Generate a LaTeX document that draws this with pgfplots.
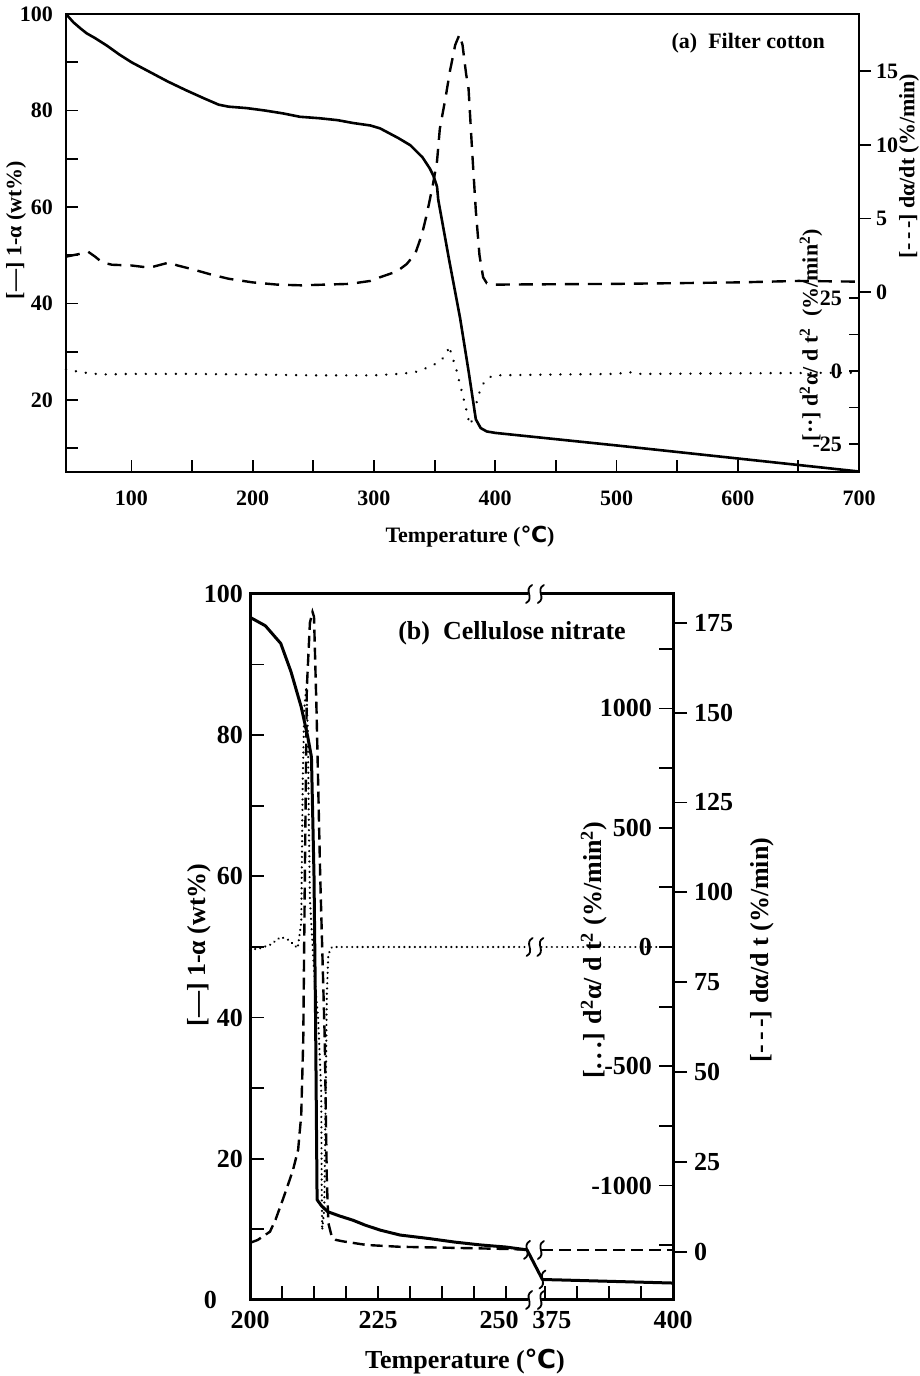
\documentclass[border=0pt]{standalone}
\usepackage{fontspec}
\setmainfont{Liberation Serif}
\newfontfamily\dv{DejaVu Sans}
\usepackage{pgfplots}
\usepackage{pgfplotstable}
\pgfplotsset{compat=1.18}

% ---------------- Panel (a) data ----------------
\pgfplotstableread{
T V
46 100
52 98.3
58 97
63 96
70 95
80 93.4
90 91.6
100 90
115 88
130 86
145 84.2
160 82.5
172 81.2
180 80.8
195 80.5
210 80
225 79.4
239 78.7
255 78.4
270 78.0
283 77.4
297 76.9
305 76.3
311 75.5
320 74.3
330 72.8
340 70.3
346 68
349 66.5
352 64.2
353 61.5
362 49
371 37
378 26
384 16
388 14.2
393 13.5
400 13.2
500 10.6
600 7.9
700 5.2
}\asolid

\pgfplotstableread{
T D
46 2.4
52 2.5
58 2.6
64 2.75
70 2.4
76 2.0
84 1.85
100 1.8
115 1.65
124 1.85
131 2.0
138 1.8
150 1.55
165 1.2
180 0.9
200 0.65
220 0.5
240 0.45
260 0.5
280 0.55
297 0.75
305 1.0
319 1.4
327 1.9
334 2.6
339.5 3.9
343.6 5.3
348.6 7.3
352 8.9
354.3 11.1
359 13.2
362.6 15.0
367 16.8
370.5 17.5
373 16.8
376 14.8
378 13.8
381 9.5
384 5.5
387 2.5
390 1.0
393 0.6
400 0.5
500 0.55
600 0.65
650 0.75
700 0.7
}\adash

\pgfplotstableread{
T S
46 0.5
60 -0.5
75 -1.2
100 -1.0
150 -1.0
200 -1.2
250 -1.5
300 -1.5
320 -1.0
333 -0.5
340 0.5
348 1.8
355 3.5
360 6
362 8.6
364 5.5
366 3
368 0.3
370 -3
373 -8
376 -13
379 -18.5
382 -16
385 -10
388 -6
392 -3
397 -1.8
400 -1.5
450 -1.2
500 -1.0
510 -0.4
520 -1.0
600 -0.8
700 -0.6
}\adot

% ---------------- Panel (b) data (x: 375..400 mapped to 257.6..282.6) ----------------
\pgfplotstableread{
X V
200 96.7
203 95.5
206 93
208 89
210 84
211.3 79.7
212.0 76.9
212.5 60
212.8 40
213.1 14.2
214 13.3
215.2 12.5
217.5 11.9
220.1 11.3
222.5 10.6
225.4 9.9
229.3 9.2
235 8.7
240 8.2
245 7.8
250 7.5
254.1 7.1
257.1 2.9
260 2.85
270 2.65
282.6 2.4
}\bsolid

\pgfplotstableread{
X D
200 2.5
201.5 3.3
203.9 5.6
205 9
206.4 14.5
207.5 19
208.4 22.8
209.4 28.4
210.0 38
210.4 59
210.7 103
211.1 157
211.7 175
212.2 178
212.5 176.7
213.0 150
213.7 105
214.6 59
215.0 20
215.3 8
215.95 4.3
216.8 3.3
218.2 2.9
222.8 1.9
229.3 1.4
240 1.1
250 0.8
254.3 0.6
}\bdashA

\pgfplotstableread{
X D
256.9 0.5
282.6 0.5
}\bdashB

\pgfplotstableread{
X S
200 -12
202 -5
204 10
206 42
207.5 30
209.3 -5
210.0 100
210.1 300
210.3 700
210.6 1000
211.0 1090
211.3 900
211.5 500
211.7 200
212.5 -100
213.3 -300
213.9 -600
214.0 -1000
214.1 -1187
214.5 -1100
214.8 -600
215.0 -200
215.3 -30
216 0
230 0
254.3 0
}\bdotA

\pgfplotstableread{
X S
256.9 0
282.6 0
}\bdotB

\newcommand{\smark}[2]{\draw[line width=0.9pt,line cap=round] ([shift={(-1.5pt,-4.5pt)}]axis cs:#1,#2) .. controls ([shift={(3pt,-2pt)}]axis cs:#1,#2) and ([shift={(-3pt,2pt)}]axis cs:#1,#2) .. ([shift={(1.5pt,4.5pt)}]axis cs:#1,#2);}

\tikzset{
  fa/.style={font=\fontsize{11}{13}\selectfont\bfseries},
  fb/.style={font=\fontsize{13}{15}\selectfont\bfseries},
}

\begin{document}
\begin{tikzpicture}
\useasboundingbox (0,0) rectangle (460pt,688pt);
\pgfplotsset{
  base/.style={scale only axis, anchor=south west, clip=false,
    /pgf/number format/assume math mode=true, /pgf/number format/1000 sep={},
    tick style={line width=0.9pt, black}},
}
% ================= Panel (a) =================
\begin{axis}[base, at={(33pt,452pt)}, width=396.5pt, height=229pt,
  xmin=46, xmax=700, ymin=5.1, ymax=100,
  xtick={100,200,...,700}, minor xtick={150,250,...,650},
  ytick={20,40,...,100}, minor ytick={10,30,...,90},
  xtick pos=lower, ytick pos=left, tick align=inside,
  major tick length=6pt, minor tick length=6pt,
  axis line style={line width=1pt},
  tick label style={fa},
  xticklabel style={yshift=-6pt}, yticklabel style={xshift=-3pt}]
\addplot[line width=1.3pt, line join=round] table[x=T,y=V] {\asolid};
\end{axis}
\begin{axis}[base, at={(33pt,452pt)}, width=396.5pt, height=229pt,
  xmin=46, xmax=700, ymin=-12.24, ymax=18.9,
  axis x line=none, axis y line*=right, axis line style={line width=1pt},
  ytick={0,5,10,15}, tick align=outside, major tick length=6pt,
  tick label style={fa}, yticklabel style={xshift=-1pt}]
\addplot[line width=1.2pt, dash pattern=on 7pt off 4.5pt] table[x=T,y=D] {\adash};
\end{axis}
\begin{axis}[base, at={(33pt,452pt)}, width=396.5pt, height=229pt,
  xmin=46, xmax=700, ymin=-34.6, ymax=122.3,
  axis x line=none, axis y line*=right, axis line style={line width=1pt},
  ytick={-25,0,25}, yticklabels={-25,0,25}, minor ytick={-12.5,12.5},
  tick align=inside, major tick length=5pt, minor tick length=5pt,
  tick label style={fa}, yticklabel style={anchor=east, xshift=-5pt}]
\addplot[line width=1.3pt, line cap=round, dash pattern=on 0.01pt off 5pt] table[x=T,y=S] {\adot};
\end{axis}
\node[fa] at (235pt,419.5pt) {Temperature ({\dv ℃})};
\node[fa, rotate=90] at (8pt,573pt) {[---] 1-α (wt\%)};
\node[fa, rotate=90] at (454.5pt,605pt) {[-\,-\,-] dα/dt (\%/min)};
\node[fa, rotate=90] at (405.5pt,520.5pt) {[··] d\textsuperscript{2}α/ d t\textsuperscript{2}\ \ (\%/min\textsuperscript{2})};
\node[fa, anchor=east] at (416pt,666.5pt) {(a)\ \ Filter cotton};

% ================= Panel (b) =================
\begin{axis}[base, at={(125pt,38pt)}, width=211.5pt, height=353pt,
  xmin=200, xmax=282.6, ymin=0, ymax=100,
  xtick={200,225,250,257.6,282.6},
  xticklabels={200,225,\makebox[0pt]{\hspace{-7pt}250},\makebox[0pt]{\hspace{7pt}375},400},
  minor xtick={206.25,212.5,218.75,231.25,237.5,243.75,263.85,270.1,276.35},
  ytick={0,20,...,100}, yticklabels={{0\rule{13pt}{0pt}},20,40,60,80,100}, minor ytick={10,30,...,90},
  xtick pos=lower, ytick pos=left, tick align=inside,
  major tick length=7pt, minor tick length=7pt,
  axis line style={line width=1.5pt},
  tick label style={fb},
  xticklabel style={yshift=-2pt}]
\addplot[line width=1.5pt, line join=round] table[x=X,y=V] {\bsolid};
\fill[white] ([yshift=-2.5pt]axis cs:254.3,0) rectangle ([yshift=2.5pt]axis cs:256.9,0);
\fill[white] ([yshift=-2.5pt]axis cs:254.3,100) rectangle ([yshift=2.5pt]axis cs:256.9,100);
\smark{254.5}{0}\smark{256.8}{0}
\smark{254.5}{100}\smark{256.8}{100}
\smark{254.1}{7.1}\smark{257.1}{2.9}
\end{axis}
\begin{axis}[base, at={(125pt,38pt)}, width=211.5pt, height=353pt,
  xmin=200, xmax=282.6, ymin=-1480, ymax=1480,
  axis x line=none, axis y line*=right, axis line style={line width=1.5pt},
  ytick={-1000,-500,0,500,1000}, yticklabels={-1000,-500,0,500,1000},
  minor ytick={-1250,-750,-250,250,750,1250},
  tick align=inside, major tick length=7pt, minor tick length=7pt,
  tick label style={fb}, yticklabel style={anchor=east, xshift=-7pt}]
\addplot[line width=1.2pt, line cap=round, dash pattern=on 0.01pt off 2.6pt] table[x=X,y=S] {\bdotA};
\addplot[line width=1.2pt, line cap=round, dash pattern=on 0.01pt off 2.6pt] table[x=X,y=S] {\bdotB};
\smark{254.6}{0}\smark{256.7}{0}
\end{axis}
\begin{axis}[base, at={(125pt,38pt)}, width=211.5pt, height=353pt,
  xmin=200, xmax=282.6, ymin=-13.4, ymax=183,
  axis x line=none, axis y line*=right, axis line style={line width=1.5pt},
  ytick={0,25,...,175}, tick align=outside, major tick length=7pt,
  tick label style={fb}]
\addplot[line width=1.2pt, dash pattern=on 6pt off 3pt] table[x=X,y=D] {\bdashA};
\addplot[line width=1.2pt, dash pattern=on 6pt off 3pt] table[x=X,y=D] {\bdashB};
\smark{256.8}{0.5}
\end{axis}
\node[fb] at (232.5pt,7pt) {Temperature ({\dv ℃})};
\node[fb, rotate=90] at (99.5pt,215.5pt) {[---] 1-α (wt\%)};
\node[fb, rotate=90] at (297pt,213pt) {[.\,.\,.] d\textsuperscript{2}α/ d t\textsuperscript{2} (\%/min\textsuperscript{2})};
\node[fb, rotate=90] at (381pt,213pt) {[-\,-\,-] dα/d t (\%/min)};
\node[fb] at (256pt,371.5pt) {(b)\ \ Cellulose nitrate};
\end{tikzpicture}
\end{document}
